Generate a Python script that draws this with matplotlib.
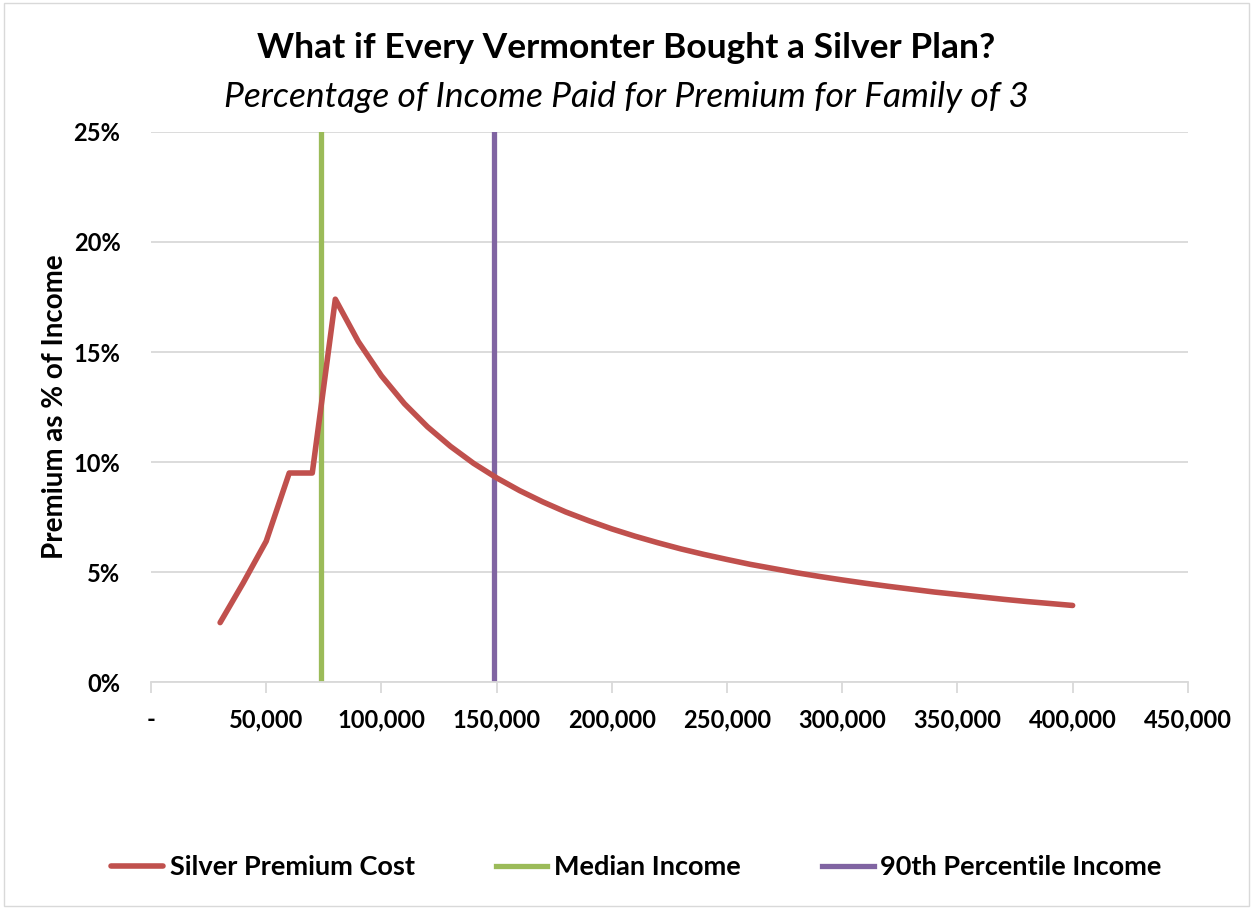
import matplotlib.pyplot as plt
from matplotlib.ticker import FuncFormatter, MultipleLocator

plt.rcParams['font.family'] = ['Lato', 'DejaVu Sans']

# income levels and premium share (%)
income = [30000, 40000, 50000, 60000, 70000, 80000, 90000, 100000, 110000, 120000,
          130000, 140000, 150000, 160000, 170000, 180000, 190000, 200000, 210000,
          220000, 230000, 240000, 250000, 260000, 270000, 280000, 290000, 300000,
          310000, 320000, 330000, 340000, 350000, 360000, 370000, 380000, 390000,
          400000]
premium_pct = [2.7, 4.5, 6.4, 9.5, 9.5, 17.4, 15.47, 13.92, 12.65, 11.6,
               10.71, 9.94, 9.28, 8.7, 8.19, 7.73, 7.33, 6.96, 6.63,
               6.33, 6.05, 5.8, 5.57, 5.35, 5.16, 4.97, 4.8, 4.64,
               4.49, 4.35, 4.22, 4.09, 3.98, 3.87, 3.76, 3.66, 3.57,
               3.48]
median_income = 73600
p90_income = 149000
vline_y = [0, 25]

red = '#C0504D'
green = '#9BBB59'
purple = '#8064A2'

fig = plt.figure(figsize=(12.53, 9.09), dpi=100)
ax = fig.add_axes([0.1205, 0.2497, 0.8275, 0.6051])

ax.plot(income, premium_pct, color=red, lw=4, solid_capstyle='round',
        solid_joinstyle='round', label='Silver Premium Cost', zorder=3)
ax.plot([median_income, median_income], vline_y, color=green, lw=3.8,
        label='Median Income', zorder=2)
ax.plot([p90_income, p90_income], vline_y, color=purple, lw=3.8,
        label='90th Percentile Income', zorder=2)

ax.set_xlim(0, 450000)
ax.set_ylim(0, 25)
ax.xaxis.set_major_locator(MultipleLocator(50000))
ax.yaxis.set_major_locator(MultipleLocator(5))
ax.xaxis.set_major_formatter(FuncFormatter(lambda v, p: '-' if v == 0 else f'{v:,.0f}'))
ax.yaxis.set_major_formatter(FuncFormatter(lambda v, p: f'{v:.0f}%'))

ax.grid(axis='y', color='#d9d9d9', lw=1.3)
ax.set_axisbelow(True)
for s in ['top', 'right', 'left']:
    ax.spines[s].set_visible(False)
ax.spines['bottom'].set_color('#d9d9d9')
ax.spines['bottom'].set_linewidth(1.3)
ax.tick_params(axis='x', colors='#d9d9d9', length=8, width=1.3, pad=11,
               labelcolor='black', labelsize=17)
ax.tick_params(axis='y', length=0, pad=22, labelsize=17)
for lbl in ax.get_xticklabels() + ax.get_yticklabels():
    lbl.set_fontweight('bold')

ax.set_ylabel('Premium as % of Income', fontsize=20, fontweight='bold', labelpad=4)

fig.text(0.5, 0.947, 'What if Every Vermonter Bought a Silver Plan?',
         ha='center', va='center', fontsize=25.5, fontweight='bold')
fig.text(0.5, 0.893, 'Percentage of Income Paid for Premium for Family of 3',
         ha='center', va='center', fontsize=25.5, style='italic')

fig.legend(loc='center', bbox_to_anchor=(0.508, 0.046), ncol=3, frameon=False,
           prop={'size': 19.5, 'weight': 'bold'}, handlelength=1.9,
           handletextpad=0.25, columnspacing=3.0)

fig.patches.append(plt.Rectangle((0.003, 0.003), 0.994, 0.994, transform=fig.transFigure,
                                 fill=False, edgecolor='#d9d9d9', lw=1))

fig.savefig('out.png', dpi=100)
